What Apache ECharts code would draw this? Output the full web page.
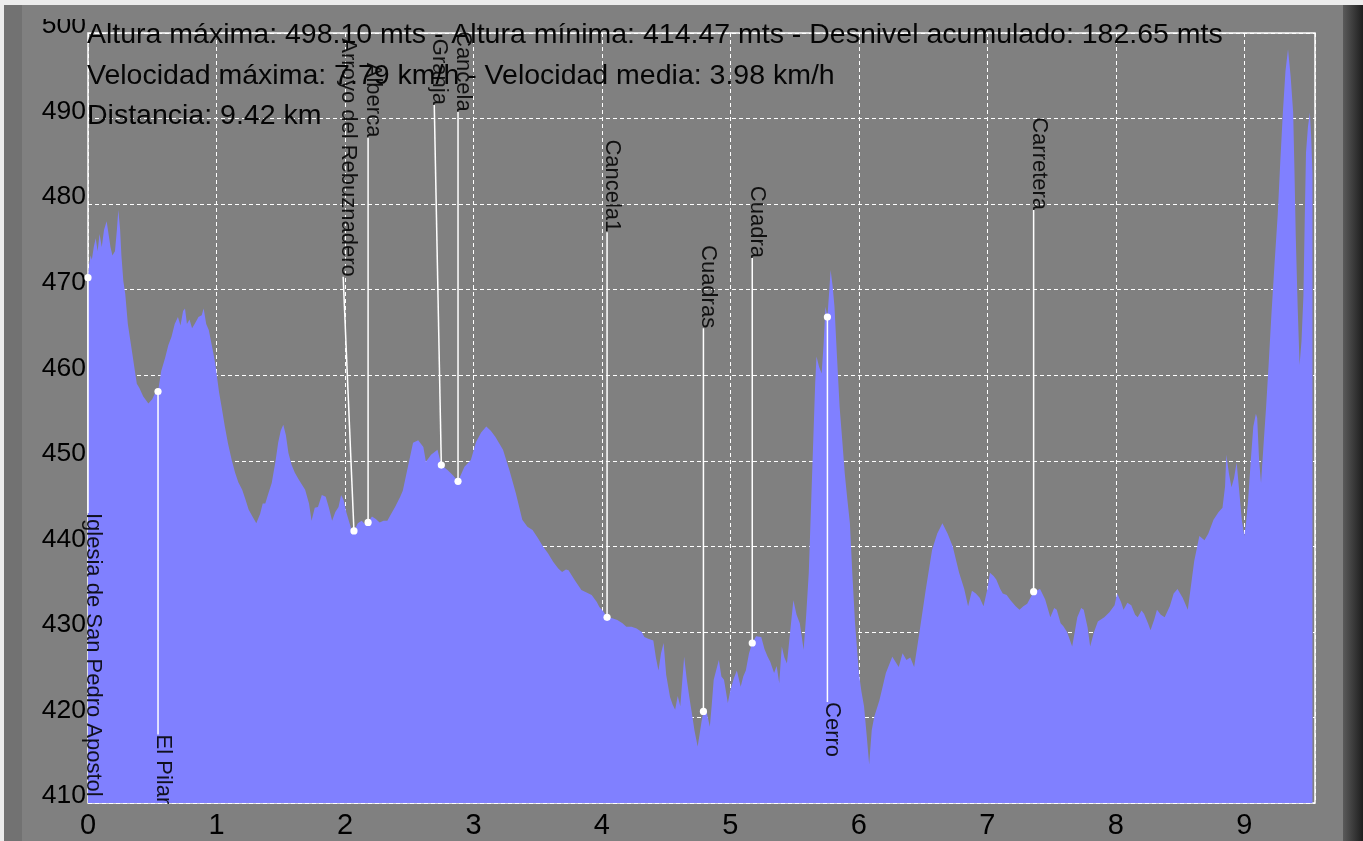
<!DOCTYPE html>
<html>
<head>
<meta charset="utf-8">
<script src="https://cdn.jsdelivr.net/npm/echarts@6/dist/echarts.min.js"></script>
<style>
html,body{margin:0;padding:0;background:#808080;}
#c{width:1363px;height:841px;}
</style>
</head>
<body>
<div id="c"></div>
<script>
// ---- Data ----
const titleLines = [
  'Altura máxima: 498.10 mts - Altura mínima: 414.47 mts - Desnivel acumulado: 182.65 mts',
  'Velocidad máxima: 7.79 km/h - Velocidad media: 3.98 km/h',
  'Distancia: 9.42 km'
];
const profileKm = [
  0.00,0.01,0.02,0.03,0.045,0.06,0.075,0.09,0.107,0.125,0.145,0.16,0.175,0.19,0.21,0.225,0.236,0.25,0.26,0.275,
  0.29,0.31,0.33,0.345,0.36,0.38,0.40,0.43,0.47,0.50,0.525,0.545,0.57,0.60,0.625,0.65,0.675,0.70,0.72,0.74,
  0.755,0.77,0.79,0.81,0.83,0.86,0.885,0.90,0.92,0.94,0.97,0.99,1.02,1.04,1.065,1.09,1.12,1.145,1.17,1.20,
  1.225,1.25,1.28,1.31,1.34,1.36,1.38,1.40,1.43,1.46,1.48,1.50,1.52,1.54,1.56,1.585,1.61,1.64,1.69,1.72,
  1.74,1.765,1.79,1.82,1.85,1.875,1.90,1.925,1.95,1.97,1.99,2.01,2.03,2.05,2.07,2.10,2.13,2.155,2.18,2.21,
  2.24,2.27,2.30,2.33,2.36,2.39,2.43,2.45,2.48,2.53,2.57,2.61,2.63,2.67,2.72,2.75,2.80,2.84,2.88,2.93,
  2.98,3.02,3.06,3.10,3.135,3.17,3.23,3.28,3.33,3.38,3.42,3.46,3.50,3.54,3.58,3.62,3.66,3.69,3.72,3.74,
  3.79,3.84,3.88,3.92,3.96,3.98,4.01,4.04,4.08,4.12,4.16,4.19,4.23,4.27,4.31,4.33,4.36,4.40,4.42,4.44,
  4.46,4.48,4.50,4.53,4.55,4.57,4.59,4.61,4.64,4.66,4.68,4.70,4.72,4.745,4.76,4.775,4.79,4.81,4.84,4.855,
  4.87,4.91,4.93,4.95,4.98,5.00,5.025,5.05,5.08,5.10,5.12,5.145,5.17,5.20,5.24,5.265,5.29,5.31,5.34,5.36,
  5.38,5.40,5.42,5.44,5.465,5.49,5.515,5.54,5.57,5.59,5.61,5.635,5.66,5.67,5.69,5.71,5.725,5.74,5.755,5.77,
  5.78,5.795,5.81,5.83,5.85,5.87,5.89,5.91,5.93,5.95,5.97,6.00,6.02,6.04,6.06,6.08,6.10,6.12,6.16,6.21,
  6.26,6.31,6.34,6.37,6.40,6.43,6.47,6.52,6.57,6.61,6.65,6.69,6.73,6.78,6.82,6.85,6.88,6.91,6.94,6.97,
  7.00,7.02,7.05,7.07,7.10,7.12,7.15,7.18,7.22,7.25,7.28,7.31,7.36,7.41,7.45,7.49,7.52,7.54,7.57,7.59,
  7.62,7.66,7.68,7.70,7.73,7.75,7.78,7.80,7.83,7.86,7.91,7.95,7.99,8.01,8.04,8.06,8.09,8.12,8.15,8.17,
  8.20,8.22,8.25,8.27,8.30,8.32,8.35,8.38,8.42,8.45,8.48,8.52,8.56,8.59,8.61,8.65,8.69,8.72,8.76,8.80,
  8.83,8.85,8.86,8.88,8.90,8.92,8.94,8.96,8.98,9.00,9.015,9.03,9.05,9.07,9.09,9.10,9.115,9.13,9.15,9.17,
  9.19,9.21,9.235,9.26,9.28,9.30,9.32,9.34,9.36,9.38,9.39,9.40,9.415,9.43,9.445,9.46,9.47,9.48,9.495,9.51,
  9.52,9.53
];
const profileElev = [
  471.4,473.0,474.0,473.5,475.0,476.0,474.5,476.5,475.0,477.0,478.0,477.8,475.0,474.0,474.5,477.0,479.3,477.0,474.0,471.0,
  469.5,466.0,464.0,462.5,461.0,459.0,458.5,457.5,456.7,457.2,458.0,458.1,460.5,462.0,463.5,464.5,466.0,466.8,465.8,467.5,
  467.8,466.0,466.5,465.5,466.0,466.8,467.0,467.8,466.0,465.3,463.0,461.4,458.0,456.3,454.0,452.0,450.0,448.6,447.5,446.6,
  445.5,444.3,443.5,442.7,443.8,445.0,445.0,446.0,447.4,450.0,452.1,453.5,454.2,453.0,450.9,449.5,448.6,447.8,446.6,445.0,
  443.0,444.5,444.6,446.0,445.8,444.5,443.0,444.0,444.6,446.0,445.4,444.0,443.0,442.0,441.8,442.7,443.0,442.6,442.8,443.5,
  443.2,442.8,443.0,443.0,443.8,444.6,445.8,446.5,448.6,452.1,452.4,451.6,449.9,450.7,451.3,449.5,448.9,448.3,447.6,449.3,
  450.1,452.2,453.3,454.0,453.5,452.8,451.3,448.9,446.2,443.1,442.3,441.9,441.0,440.0,439.2,438.2,437.4,437.0,437.3,437.2,
  436.0,434.9,434.6,434.3,433.5,432.9,432.4,431.7,431.6,431.4,431.0,430.6,430.6,430.4,430.0,429.4,429.2,429.0,427.0,425.5,
  427.5,428.7,425.0,422.4,421.5,420.9,422.5,421.3,427.1,424.5,422.4,420.5,418.5,416.6,418.0,419.5,420.7,421.0,418.9,421.5,
  424.4,426.7,424.8,424.4,421.7,423.2,424.5,425.5,423.6,424.8,425.5,427.5,428.7,429.5,429.4,428.0,427.1,426.5,425.2,426.0,
  424.0,428.3,427.0,426.3,430.0,433.7,432.0,431.0,427.9,432.0,436.9,448.0,459.1,462.2,461.0,460.2,463.5,468.0,466.8,470.0,
  472.3,470.5,468.0,462.0,456.3,452.5,448.5,445.5,442.7,436.5,431.0,425.2,423.0,421.3,418.0,414.5,418.5,420.1,422.0,425.2,
  427.1,425.9,427.5,426.7,427.0,425.9,429.8,434.9,439.6,441.5,442.7,441.5,440.0,436.9,435.0,433.0,434.8,434.5,434.0,433.0,
  435.0,436.9,436.5,436.1,435.0,434.5,434.3,433.7,433.0,432.6,433.0,433.3,434.7,435.0,433.8,431.7,432.8,432.6,431.0,430.7,
  430.0,428.3,430.0,431.7,432.8,432.6,430.5,428.3,430.0,431.2,431.7,432.3,433.1,434.5,433.5,432.6,433.4,433.1,432.0,431.7,
  432.5,432.1,431.0,430.2,431.5,432.6,432.0,431.7,433.0,434.5,435.0,434.0,432.6,436.0,438.3,441.2,440.7,441.5,443.1,444.0,
  444.5,447.0,450.7,448.5,446.9,448.0,449.8,446.5,443.1,441.2,443.0,445.5,450.0,454.0,455.5,455.0,450.0,447.4,452.0,456.4,
  461.5,466.9,473.0,478.8,485.0,490.7,495.5,498.1,495.0,490.7,484.0,476.4,468.0,461.2,464.0,469.3,478.0,486.0,489.0,490.7,
  488.0,483.6
];
// Waypoints
const wpNames = ['Iglesia de San Pedro Apostol','El Pilar','Arroyo del Rebuznadero','Alberca','Granja','Cancela',
                 'Cancela1','Cuadras','Cuadra','Cerro','Carretera'];
const wpKm    = [0.00, 0.545, 2.07, 2.18, 2.75, 2.88, 4.04, 4.79, 5.17, 5.755, 7.36];
const wpElev  = [471.4, 458.1, 441.8, 442.8, 449.5, 447.6, 431.7, 420.7, 428.7, 466.8, 434.7];
// where each leader line ends and its label begins (km, m)
const wpLabelKm   = [0.00, 0.545, 1.986, 2.18, 2.695, 2.88, 4.04, 4.79, 5.17, 5.755, 7.36];
const wpLabelElev = [443.9, 418.0, 471.5, 487.8, 491.6, 490.8, 476.7, 465.5, 473.7, 421.8, 479.3];
const wpLabelUp   = [0, 0, 1, 1, 1, 1, 1, 1, 1, 0, 1];

const xTicks = [0,1,2,3,4,5,6,7,8,9];
const yMin = 410, yMax = 500, yStep = 10, xMax = 9.55;

// ---- Chart ----
const profile = profileKm.map((k, i) => [k, profileElev[i]]);
const wpData = wpKm.map((k, i) => [k, wpElev[i], wpLabelKm[i], wpLabelElev[i], wpLabelUp[i]]);

const chart = echarts.init(document.getElementById('c'), null, {renderer: 'canvas'});
chart.setOption({
  backgroundColor: '#808080',
  animation: false,
  graphic: [
    {type: 'rect', left: 22, top: 5, shape: {width: 64, height: 14}, style: {fill: '#808080'}, z: 99},
    {type: 'rect', left: 0, top: 0, shape: {width: 1363, height: 5}, style: {fill: '#ececec'}, z: 100},
    {type: 'rect', left: 0, top: 0, shape: {width: 4, height: 841}, style: {fill: '#ececec'}, z: 100},
    {type: 'rect', left: 4, top: 5, shape: {width: 18, height: 836}, style: {fill: '#727272'}, z: -1},
    {type: 'rect', left: 1343, top: 5, shape: {width: 20, height: 836},
      style: {fill: new echarts.graphic.LinearGradient(0, 0, 1, 0, [{offset: 0, color: '#5a5a5a'}, {offset: 1, color: '#1e1e1e'}])}, z: 100}
  ],
  title: {
    text: titleLines.join('\n'),
    left: 87,
    top: 15,
    padding: 0,
    textStyle: {fontFamily: 'Liberation Sans, Arial, sans-serif', fontSize: 28.5, fontWeight: 'normal', color: '#050505', lineHeight: 40.5}
  },
  grid: {
    left: 88, right: 48, top: 33, bottom: 38,
    show: true, borderColor: '#ffffff', borderWidth: 1.5, backgroundColor: 'transparent'
  },
  xAxis: {
    type: 'value', min: 0, max: xMax, interval: 1,
    axisLine: {show: false}, axisTick: {show: false},
    axisLabel: {
      color: '#000', fontFamily: 'Liberation Sans, Arial, sans-serif', fontSize: 29, margin: 8,
      showMaxLabel: false,
      formatter: v => (xTicks.indexOf(v) >= 0 ? String(v) : '')
    },
    splitLine: {show: true, lineStyle: {color: '#ffffff', width: 1, type: [4, 3]}}
  },
  yAxis: {
    type: 'value', min: yMin, max: yMax, interval: yStep,
    axisLine: {show: false}, axisTick: {show: false},
    axisLabel: {
      color: '#000', fontFamily: 'Liberation Sans, Arial, sans-serif', fontSize: 26.5, margin: 2,
      verticalAlign: 'bottom', lineHeight: 14
    },
    splitLine: {show: true, lineStyle: {color: '#ffffff', width: 1, type: [4, 3]}}
  },
  series: [
    {
      type: 'line',
      data: profile,
      showSymbol: false,
      symbol: 'none',
      lineStyle: {width: 0, color: '#8080ff'},
      areaStyle: {color: '#8080ff', opacity: 1, origin: 'start'},
      z: 1
    },
    {
      type: 'custom',
      data: wpData,
      encode: {x: 0, y: 1},
      clip: false,
      z: 5,
      renderItem: function (params, api) {
        const i = params.dataIndex;
        const p = api.coord([api.value(0), api.value(1)]);
        const a = api.coord([api.value(2), api.value(3)]);
        const up = api.value(4) > 0;
        return {
          type: 'group',
          children: [
            {type: 'line', shape: {x1: p[0], y1: p[1], x2: a[0], y2: a[1]}, style: {stroke: '#ffffff', lineWidth: 1.5}},
            {type: 'circle', shape: {cx: p[0], cy: p[1], r: 3.6}, style: {fill: '#ffffff'}},
            {type: 'text', x: a[0] + 5, y: a[1], rotation: -Math.PI / 2,
              style: {text: wpNames[i], align: up ? 'right' : 'left', verticalAlign: 'middle',
                fill: 'rgba(0,0,0,0.88)', font: '22px "Liberation Sans", Arial, sans-serif'}}
          ]
        };
      }
    }
  ]
});
</script>
</body>
</html>
